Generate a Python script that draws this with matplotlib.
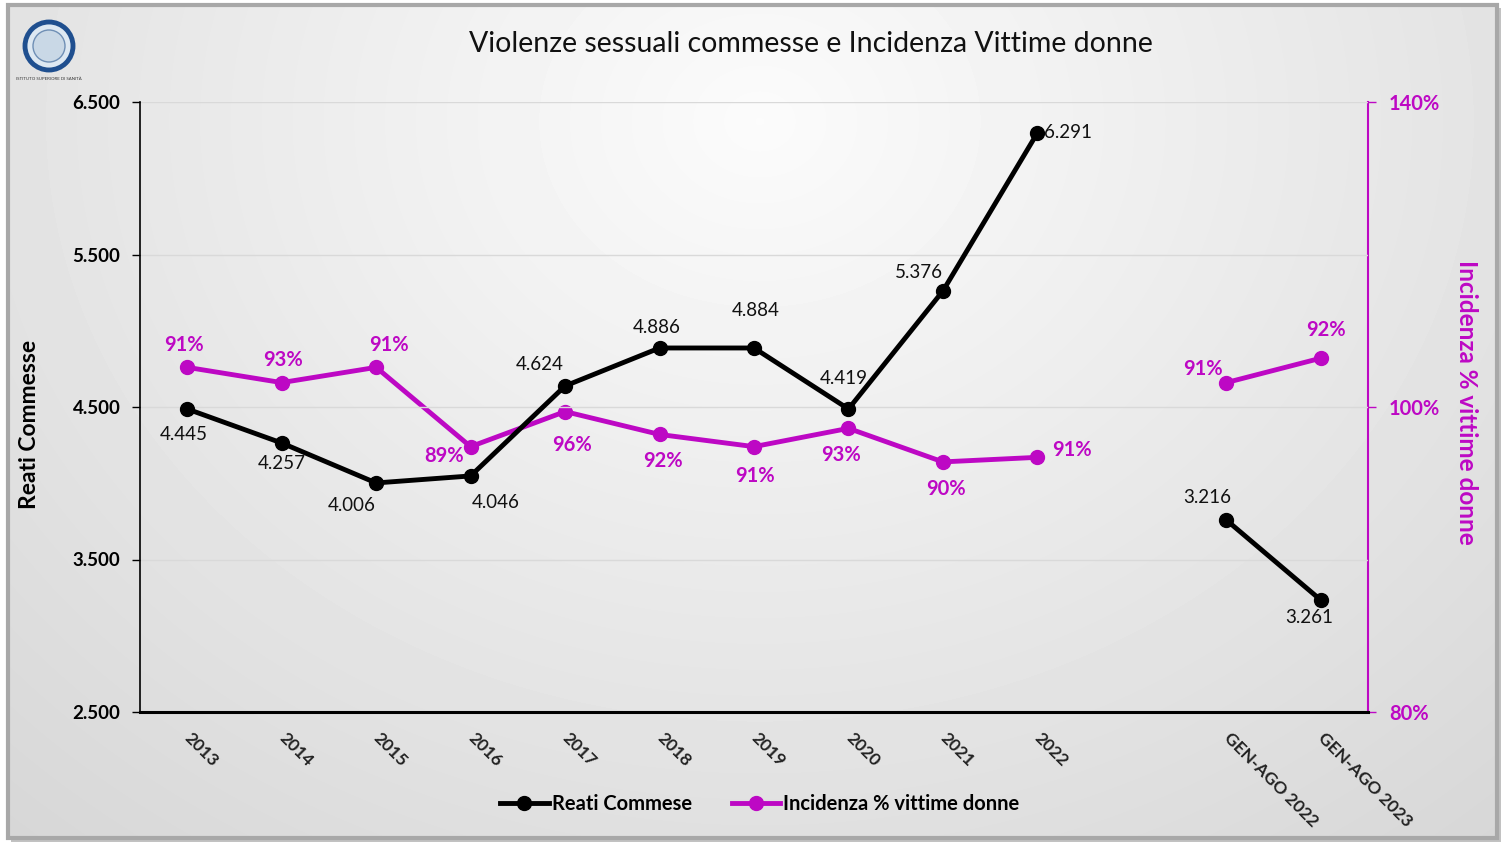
import numpy as np
import matplotlib.pyplot as plt
from matplotlib.patches import Circle, Rectangle
from matplotlib.lines import Line2D

plt.rcParams['font.family'] = ['Lato', 'DejaVu Sans']

# dati (posizioni dei punti) + etichette come scritte
categorie = ['2013', '2014', '2015', '2016', '2017', '2018', '2019', '2020', '2021', '2022',
             '', 'GEN-AGO 2022', 'GEN-AGO 2023']
reati = [4487, 4264, 4002, 4048, 4638, 4887, 4887, 4487, 5261, 6297, np.nan, 3759, 3234]
reati_etichette = ['4.445', '4.257', '4.006', '4.046', '4.624', '4.886', '4.884', '4.419',
                   '5.376', '6.291', '', '3.216', '3.261']
incidenza = [102.6, 101.6, 102.6, 97.4, 99.7, 98.2, 97.4, 98.6, 96.4, 96.7, np.nan, 101.6, 103.2]
incidenza_etichette = ['91%', '93%', '91%', '89%', '96%', '92%', '91%', '93%', '90%', '91%',
                       '', '91%', '92%']
sx_ticks = [2500, 3500, 4500, 5500, 6500]
sx_tick_labels = ['2.500', '3.500', '4.500', '5.500', '6.500']
dx_ticks = [80, 100, 120]
dx_tick_labels = ['80%', '100%', '140%']

# spostamenti etichette (pixel)
off_reati = [(-3, -26), (0, -21), (-24, -23), (25, -27), (-25, 21), (-3, 20), (2, 37),
             (-5, 30), (-24, 18), (31, 0), (0, 0), (-19, 23), (-12, -17)]
off_inc = [(-3, 22), (1, 23), (13, 22), (-27, -9), (7, -33), (3, -27), (1, -29),
           (-7, -27), (3, -27), (35, 7), (0, 0), (-23, 14), (5, 28)]

ROSA = '#bd08c4'
W, H = 1501, 844

fig = plt.figure(figsize=(W / 100, H / 100), dpi=100)
fig.patch.set_facecolor('white')

# sfondo con cornice e sfumatura
bg = fig.add_axes([0, 0, 1, 1], zorder=-5)
bg.set_xlim(0, W)
bg.set_ylim(H, 0)
bg.axis('off')
bg.add_patch(Rectangle((11, 8), 1490, 834, facecolor='#9a9a9a', edgecolor='none', alpha=0.6,
                       zorder=0))
yy, xx = np.mgrid[0:200, 0:300]
xx = xx / 299 * 1489 + 8
yy = yy / 199 * 833 + 5
d = np.sqrt(((xx - 760) / 950) ** 2 + ((yy - 120) / 800) ** 2)
grad = np.clip(0.985 - 0.12 * d, 0, 1)
bg.imshow(grad, cmap='gray', vmin=0, vmax=1, extent=(8, 1497, 838, 5), aspect='auto',
          interpolation='bilinear', zorder=1)
bg.add_patch(Rectangle((8, 5), 1489, 833, facecolor='none', edgecolor='#a8a8a8', lw=3, zorder=2))

# logo
bg.add_patch(Circle((49, 46), 24, facecolor='#dde8f2', edgecolor='#1f4f8f', lw=3.5, zorder=3))
bg.add_patch(Circle((49, 46), 16, facecolor='#c9d8e6', edgecolor='#6f8fb5', lw=1, zorder=3))
bg.text(49, 79, 'ISTITUTO SUPERIORE DI SANITÀ', fontsize=3.2, ha='center', va='center',
        color='#333333', zorder=3)

x = np.arange(len(categorie))

ax = fig.add_axes([140 / W, 1 - 712 / H, 1228 / W, 610 / H])
ax.set_facecolor('none')
ax.set_xlim(-0.5, len(categorie) - 0.5)
ax.set_ylim(2500, 6500)
ax.set_yticks(sx_ticks)
ax.set_yticklabels(sx_tick_labels, fontsize=13.5, fontweight='bold')
ax.yaxis.grid(True, color='#d9d9d9', lw=1)
ax.set_axisbelow(True)
ax.set_xticks(x)
ax.set_xticklabels(categorie, rotation=-45, ha='left', va='center', rotation_mode='anchor',
                   fontsize=12.5, fontweight='bold', color='#222222')
ax.tick_params(axis='x', length=0, pad=17)
ax.tick_params(axis='y', length=6, width=1, pad=8, direction='out')
for s in ['top', 'right']:
    ax.spines[s].set_visible(False)
ax.spines['left'].set_linewidth(1.2)
ax.spines['bottom'].set_linewidth(2.2)
ax.set_ylabel('Reati Commesse', fontsize=16.5, fontweight='bold')
ax.yaxis.set_label_coords(-0.0814, 0.472)

ax2 = ax.twinx()
ax2.set_ylim(80, 120)
ax2.set_yticks(dx_ticks)
ax2.set_yticklabels(dx_tick_labels, fontsize=14.5, fontweight='bold', color=ROSA)
ax2.tick_params(axis='y', colors=ROSA, length=6, width=1, pad=9)
for s in ['top', 'left', 'bottom']:
    ax2.spines[s].set_visible(False)
ax2.spines['right'].set_color(ROSA)
ax2.spines['right'].set_linewidth(1.5)
ax2.set_ylabel('Incidenza % vittime donne', fontsize=17.5, fontweight='bold', color=ROSA,
               rotation=-90, va='center')
ax2.yaxis.set_label_coords(1.0806, 0.508)

ax2.plot(x, incidenza, color=ROSA, lw=3.5, marker='o', markersize=10, zorder=3)
ax.plot(x, reati, color='black', lw=3.5, marker='o', markersize=10, zorder=4)
ax.set_zorder(ax2.get_zorder() + 1)

for i in range(len(categorie)):
    if reati_etichette[i]:
        ax.annotate(reati_etichette[i], (x[i], reati[i]), xytext=off_reati[i],
                    textcoords='offset pixels', ha='center', va='center', fontsize=13.5,
                    color='#111111')
    if incidenza_etichette[i]:
        ax2.annotate(incidenza_etichette[i], (x[i], incidenza[i]), xytext=off_inc[i],
                     textcoords='offset pixels', ha='center', va='center', fontsize=14.5,
                     fontweight='bold', color=ROSA)

fig.text(811 / W, 1 - 44 / H, 'Violenze sessuali commesse e Incidenza Vittime donne',
         fontsize=20.5, ha='center', va='center', color='#111111')

handles = [Line2D([], [], color='black', lw=3.5, marker='o', markersize=10),
           Line2D([], [], color=ROSA, lw=3.5, marker='o', markersize=10)]
fig.legend(handles, ['Reati Commese', 'Incidenza % vittime donne'], loc='center',
           bbox_to_anchor=(760 / W, 1 - 804 / H), ncol=2, frameon=False,
           prop={'size': 14.5, 'weight': 'bold'}, handlelength=2.4, handletextpad=0.15,
           columnspacing=2.0)

fig.savefig('out.png', dpi=100)
